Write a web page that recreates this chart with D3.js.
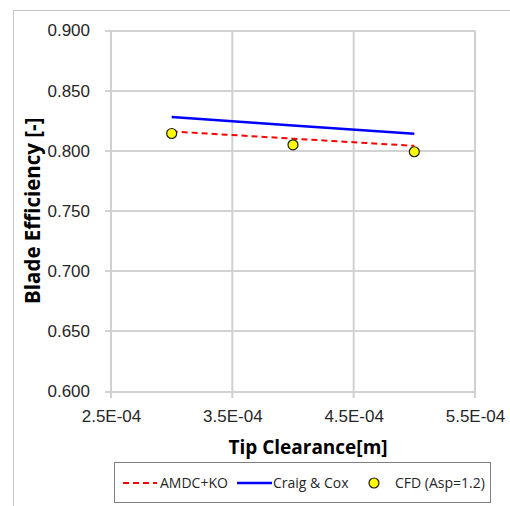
<!DOCTYPE html>
<html>
<head>
<meta charset="utf-8">
<script src="https://cdn.jsdelivr.net/npm/d3@7"></script>
<style>
  body { margin: 0; background: #fff; }
  svg { display: block; font-family: 'Open Sans', sans-serif; }
  .tick text { font-size: 17px; fill: #262626; }
  .axis-name { font-weight: bold; fill: #000; }
  .legend text { font-size: 14px; fill: #262626; }
</style>
</head>
<body>
<div id="chart"></div>
<script>
// Data
const clearance = [3e-4, 4e-4, 5e-4];
const amdcKo = [0.816, 0.810, 0.804];
const craigCox = [0.828, 0.821, 0.814];
const cfd = [0.8143, 0.8049, 0.7991];

const xTicks = [2.5e-4, 3.5e-4, 4.5e-4, 5.5e-4];
const yTicks = [0.6, 0.65, 0.7, 0.75, 0.8, 0.85, 0.9];
const seriesNames = ['AMDC+KO', 'Craig & Cox', 'CFD (Asp=1.2)'];

const margin = { l: 111, t: 30.5, r: 35, b: 115 };
const width = 510 - margin.l - margin.r;
const height = 506 - margin.t - margin.b;

const root = d3
  .select('#chart')
  .append('svg')
  .attr('width', 510)
  .attr('height', 506);

// outer chart frame (clipped at right / bottom like the original)
root
  .append('rect')
  .attr('x', 13.5)
  .attr('y', 10.5)
  .attr('width', 600)
  .attr('height', 600)
  .attr('fill', 'none')
  .attr('stroke', '#c6c6c6');

const svg = root.append('g').attr('transform', `translate(${margin.l}, ${margin.t})`);

const x = d3.scaleLinear([2.5e-4, 5.5e-4], [0, width]);
const y = d3.scaleLinear([0.6, 0.9], [height, 0]);

const sci = (d) => {
  const [m, e] = d.toExponential(1).split('e');
  return `${m}E${+e < 0 ? '-' : '+'}${String(Math.abs(+e)).padStart(2, '0')}`;
};

// gridlines
svg
  .append('g')
  .selectAll('line')
  .data(yTicks)
  .join('line')
  .attr('x1', -6)
  .attr('x2', width)
  .attr('y1', (d) => Math.round(y(d)) + 0.5)
  .attr('y2', (d) => Math.round(y(d)) + 0.5)
  .attr('stroke', '#a6a6a6');

svg
  .append('g')
  .selectAll('line')
  .data(xTicks)
  .join('line')
  .attr('x1', (d) => x(d))
  .attr('x2', (d) => x(d))
  .attr('y1', 0)
  .attr('y2', height + 7)
  .attr('stroke', '#d0d0d0')
  .attr('stroke-width', 2);

// axes (labels only)
svg
  .append('g')
  .call(d3.axisLeft(y).tickValues(yTicks).tickFormat(d3.format('.3f')).tickSize(0).tickPadding(21))
  .call((g) => g.select('.domain').remove());

svg
  .append('g')
  .attr('transform', `translate(0, ${height})`)
  .call(d3.axisBottom(x).tickValues(xTicks).tickFormat(sci).tickSize(0).tickPadding(19))
  .call((g) => g.select('.domain').remove());

// series
const line = d3
  .line()
  .x((d) => x(d[0]))
  .y((d) => y(d[1]));

svg
  .append('path')
  .datum(d3.zip(clearance, craigCox))
  .attr('d', line)
  .attr('fill', 'none')
  .attr('stroke', '#0000ff')
  .attr('stroke-width', 2.5);

svg
  .append('path')
  .datum(d3.zip(clearance, amdcKo))
  .attr('d', line)
  .attr('fill', 'none')
  .attr('stroke', '#ff0000')
  .attr('stroke-width', 2)
  .attr('stroke-dasharray', '6,4');

svg
  .append('g')
  .selectAll('circle')
  .data(d3.zip(clearance, cfd))
  .join('circle')
  .attr('cx', (d) => x(d[0]))
  .attr('cy', (d) => y(d[1]))
  .attr('r', 5)
  .attr('fill', '#ffff00')
  .attr('stroke', '#1a1a1a')
  .attr('stroke-width', 1.2);

// axis names
root
  .append('text')
  .attr('class', 'axis-name')
  .attr('transform', `translate(40, ${margin.t + height / 2}) rotate(-90)`)
  .attr('text-anchor', 'middle')
  .style('font-size', '20.5px')
  .text('Blade Efficiency [-]');

root
  .append('text')
  .attr('class', 'axis-name')
  .attr('x', 308)
  .attr('y', 454)
  .attr('text-anchor', 'middle')
  .style('font-size', '19px')
  .text('Tip Clearance[m]');

// legend
const legend = root.append('g').attr('class', 'legend');
legend
  .append('rect')
  .attr('x', 114.5)
  .attr('y', 462.5)
  .attr('width', 376)
  .attr('height', 40)
  .attr('fill', '#fff')
  .attr('stroke', '#7f7f7f');

const ly = 483;
legend.append('line')
  .attr('x1', 123).attr('x2', 157).attr('y1', ly).attr('y2', ly)
  .attr('stroke', '#ff0000').attr('stroke-width', 2).attr('stroke-dasharray', '6,4');
legend.append('line')
  .attr('x1', 237).attr('x2', 272).attr('y1', ly).attr('y2', ly)
  .attr('stroke', '#0000ff').attr('stroke-width', 2.5);
legend.append('circle')
  .attr('cx', 374).attr('cy', ly).attr('r', 5)
  .attr('fill', '#ffff00').attr('stroke', '#1a1a1a').attr('stroke-width', 1.2);

legend
  .selectAll('text')
  .data(seriesNames)
  .join('text')
  .attr('x', (d, i) => [160, 273, 395][i])
  .attr('y', ly)
  .attr('dy', '0.35em')
  .text((d) => d);
</script>
</body>
</html>
